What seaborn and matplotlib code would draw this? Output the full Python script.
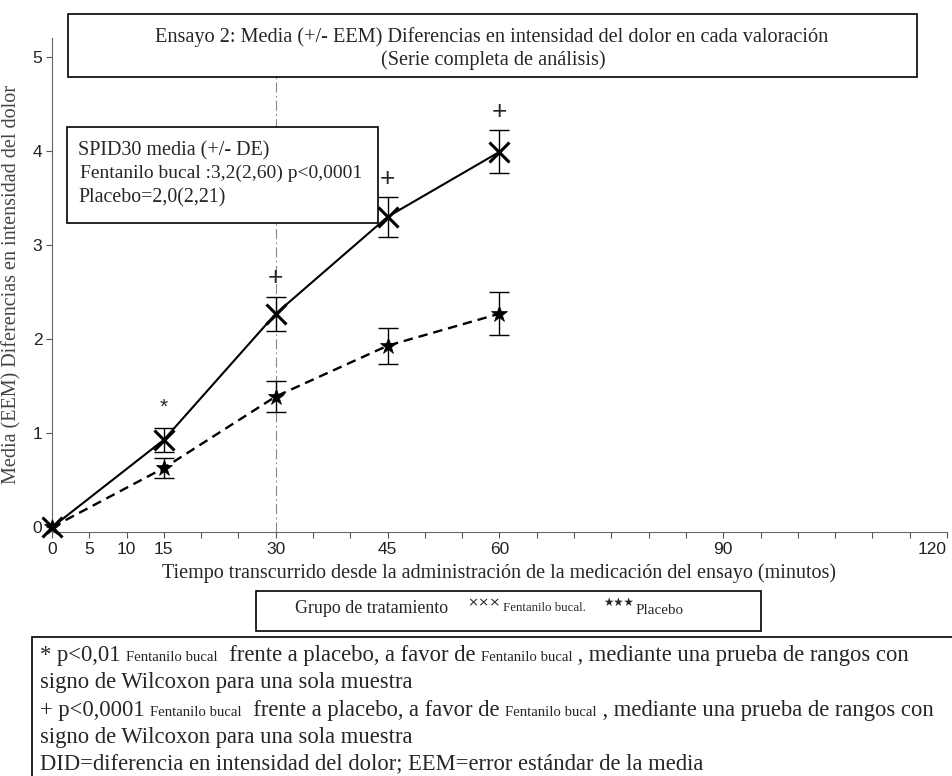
import matplotlib
matplotlib.use("Agg")
import matplotlib.pyplot as plt
import seaborn as sns
import pandas as pd
from matplotlib.patches import Rectangle
from matplotlib.ticker import FixedLocator, FuncFormatter

W, H = 953, 776

# data
minutes = [0, 15, 30, 45, 60]
fent_mean = [0.0, 0.93, 2.27, 3.30, 3.99]
fent_sem = [0.0, 0.13, 0.18, 0.21, 0.23]
plac_mean = [0.0, 0.63, 1.39, 1.93, 2.27]
plac_sem = [0.0, 0.11, 0.16, 0.19, 0.23]

star_times = [15]
star_y = [1.27]
plus_times = [30, 45, 60]
plus_y = [2.65, 3.70, 4.41]

x_labelled = [0, 5, 10, 15, 30, 45, 60, 90, 120]
y_ticks = [0, 1, 2, 3, 4, 5]

SERIF = "Liberation Serif"
SANS = "Liberation Sans"

sns.set_style("ticks")
plt.rcParams["font.family"] = [SERIF, "DejaVu Sans"]

df = pd.DataFrame({"t": minutes, "fent": fent_mean, "fsem": fent_sem,
                   "plac": plac_mean, "psem": plac_sem})

fig = plt.figure(figsize=(W / 100, H / 100), dpi=100)
ax = fig.add_axes([52 / W, (H - 532) / H, (947 - 52) / W, (532 - 38) / H])


def px(x, y):
    return x / W, 1 - y / H


# reference line at 30 min
ax.axvline(30, color="#888888", lw=0.8, ls=(0, (9, 3, 1.5, 3)), zorder=1)

sns.lineplot(data=df, x="t", y="fent", ax=ax, color="black", lw=1.5,
             marker="x", markersize=14, markeredgewidth=2.2,
             markeredgecolor="black", linestyle="-",
             clip_on=False, zorder=4)
sns.lineplot(data=df, x="t", y="plac", ax=ax, color="black", lw=1.7,
             marker="*", markersize=12, markeredgewidth=0.5,
             markeredgecolor="black", markerfacecolor="black",
             dashes=False, linestyle=(0, (4, 2.5)), clip_on=False, zorder=4)

sub = df[df["fsem"] > 0]
ax.errorbar(sub["t"], sub["fent"], yerr=sub["fsem"], fmt="none",
            ecolor="black", elinewidth=1, capsize=7, capthick=1, zorder=3)
sub = df[df["psem"] > 0]
ax.errorbar(sub["t"], sub["plac"], yerr=sub["psem"], fmt="none",
            ecolor="black", elinewidth=1, capsize=7, capthick=1, zorder=3)

for t, y in zip(star_times, star_y):
    ax.text(t, y, "*", ha="center", va="center", fontsize=15, family=SANS)
for t, y in zip(plus_times, plus_y):
    ax.text(t, y, "+", ha="center", va="center", fontsize=19, family=SANS)

ax.set_xlim(0, 120)
ax.set_ylim(-0.05, 5.2)
sns.despine(ax=ax)
ax.xaxis.set_major_locator(FixedLocator(list(range(0, 121, 5))))
ax.xaxis.set_major_formatter(FuncFormatter(
    lambda v, p: str(int(v)) if int(round(v)) in x_labelled else ""))
ax.set_yticks(y_ticks)
ax.tick_params(axis="both", length=4, width=0.8, color="#555555",
               labelsize=12.5, pad=3)
for lab in ax.get_xticklabels() + ax.get_yticklabels():
    lab.set_family(SANS)
    lab.set_color("#222222")
ax.get_xticklabels()[-1].set_horizontalalignment("right")
for sp in ax.spines.values():
    sp.set_color("#666666")
    sp.set_linewidth(0.8)

ax.set_xlabel("Tiempo transcurrido desde la administración de la medicación del ensayo (minutos)",
              fontsize=14.5, labelpad=5)
ax.set_ylabel("Media (EEM) Diferencias en intensidad del dolor",
              fontsize=14.5, color="#444444", labelpad=8)

# title box
fig.add_artist(Rectangle(px(68, 77), (917 - 68) / W, (77 - 14) / H,
                         transform=fig.transFigure, fill=True, fc="white",
                         ec="black", lw=1.2, zorder=5))
fig.text(*px(492, 42), "Ensayo 2: Media (+/- EEM) Diferencias en intensidad del dolor en cada valoración",
         ha="center", va="baseline", fontsize=14.6, zorder=6)
fig.text(*px(493, 65), "(Serie completa de análisis)",
         ha="center", va="baseline", fontsize=14.6, zorder=6)

# SPID box
fig.add_artist(Rectangle(px(67, 223), (378 - 67) / W, (223 - 127) / H,
                         transform=fig.transFigure, fc="white", ec="black",
                         lw=1.2, zorder=5))
fig.text(*px(78, 155), "SPID30 media (+/- DE)", va="baseline", fontsize=14.5, zorder=6)
fig.text(*px(80, 178), "Fentanilo bucal :3,2(2,60) p<0,0001", va="baseline", fontsize=14, zorder=6)
fig.text(*px(78, 202), "Placebo=2,0(2,21)", va="baseline", fontsize=14.3, zorder=6)

renderer = fig.canvas.get_renderer()


def runs(x, y, parts):
    # draw text pieces of different sizes one after another on one baseline
    for s, size, fam in parts:
        t = fig.text(*px(x, y), s, va="baseline", ha="left", fontsize=size,
                     family=fam, zorder=6)
        x += t.get_window_extent(renderer=renderer).width


# legend box
fig.add_artist(Rectangle(px(256, 631), (761 - 256) / W, (631 - 591) / H,
                         transform=fig.transFigure, fc="white", ec="black",
                         lw=1.2, zorder=5))
fig.text(*px(295, 613), "Grupo de tratamiento", va="baseline", fontsize=12.9, zorder=6)
runs(467, 606, [("×××", 9.5, "DejaVu Sans")])
runs(503, 611, [("Fentanilo bucal.", 9.3, SERIF)])
runs(603, 606, [("★★★", 8.3, "DejaVu Sans")])
runs(636, 614, [("Placebo", 10.8, SERIF)])

# footnote box
fig.add_artist(Rectangle(px(32, 790), (970 - 32) / W, (790 - 637) / H,
                         transform=fig.transFigure, fc="white", ec="black",
                         lw=1.2, zorder=5))
big, small = 16.3, 10.6
runs(40, 661, [("* p<0,01 ", big, SERIF), ("Fentanilo bucal", small, SERIF),
               ("  frente a placebo, a favor de ", big, SERIF),
               ("Fentanilo bucal", small, SERIF),
               (" , mediante una prueba de rangos con", big, SERIF)])
runs(40, 688, [("signo de Wilcoxon para una sola muestra", big, SERIF)])
runs(40, 716, [("+ p<0,0001 ", big, SERIF), ("Fentanilo bucal", small, SERIF),
               ("  frente a placebo, a favor de ", big, SERIF),
               ("Fentanilo bucal", small, SERIF),
               (" , mediante una prueba de rangos con", big, SERIF)])
runs(40, 743, [("signo de Wilcoxon para una sola muestra", big, SERIF)])
runs(40, 769, [("DID=diferencia en intensidad del dolor; EEM=error estándar de la media", big, SERIF)])

fig.savefig("out.png", dpi=100)
